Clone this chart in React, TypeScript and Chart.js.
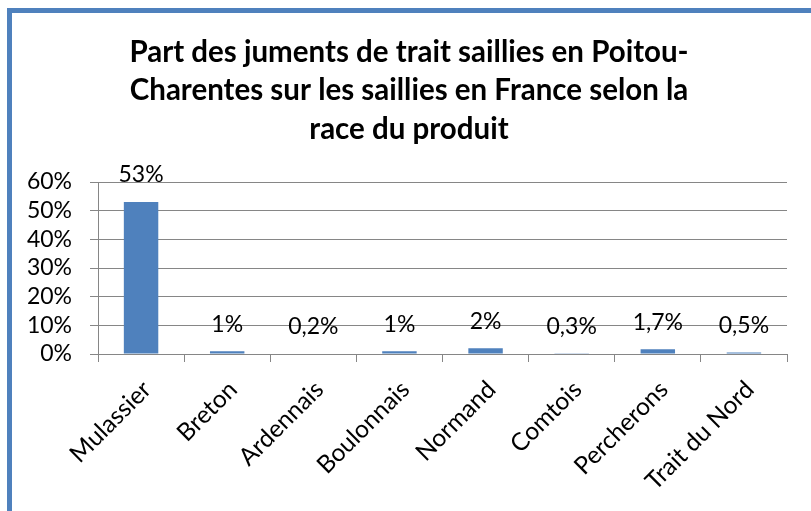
import React, { useEffect, useRef } from "react";
import { Chart, registerables } from "chart.js";

Chart.register(...registerables);

const titleLines = [
  "Part des juments de trait saillies en Poitou-",
  "Charentes sur les saillies en France selon la",
  "race du produit",
];
const categories = [
  "Mulassier",
  "Breton",
  "Ardennais",
  "Boulonnais",
  "Normand",
  "Comtois",
  "Percherons",
  "Trait du Nord",
];
const values = [53, 1, 0.2, 1, 2, 0.3, 1.7, 0.5];
const yTicks = [0, 10, 20, 30, 40, 50, 60];

const FONT = "Lato, Carlito, 'Open Sans', sans-serif";
const BLUE = "#4F81BD";
const GRID = "#868686";

const fmt = (v: number) => String(v).replace(".", ",") + "%";

const dataLabels = {
  id: "dataLabels",
  afterDatasetsDraw(chart: any) {
    const ctx = chart.ctx;
    const meta = chart.getDatasetMeta(0);
    ctx.save();
    ctx.font = `23px ${FONT}`;
    ctx.fillStyle = "#000";
    ctx.textAlign = "center";
    ctx.textBaseline = "middle";
    meta.data.forEach((el: any, i: number) => {
      ctx.fillText(fmt(values[i]), el.x, el.y - 27);
    });
    ctx.restore();
  },
};

export default function App() {
  const ref = useRef<HTMLCanvasElement | null>(null);
  useEffect(() => {
    document.body.style.margin = "0";
    const chart = new Chart(ref.current as HTMLCanvasElement, {
      type: "bar",
      data: {
        labels: categories,
        datasets: [
          {
            data: values,
            backgroundColor: BLUE,
            borderWidth: 0,
            categoryPercentage: 1,
            barPercentage: 0.4,
          },
        ],
      },
      options: {
        animation: false,
        responsive: false,
        layout: { padding: { top: 33, left: 7, right: 0, bottom: 0 } },
        plugins: {
          legend: { display: false },
          tooltip: { enabled: false },
          title: {
            display: true,
            text: titleLines,
            color: "#000",
            font: { family: FONT, size: 29.5, weight: "bold", lineHeight: 38.5 / 29.5 },
            padding: { top: 0, bottom: 33.5 },
          },
        },
        scales: {
          x: {
            grid: {
              offset: true,
              drawOnChartArea: false,
              drawTicks: true,
              tickLength: 8,
              color: GRID,
            },
            border: { color: GRID },
            ticks: {
              autoSkip: false,
              maxRotation: 45,
              minRotation: 45,
              color: "#000",
              font: { family: FONT, size: 24.5 },
              padding: 13,
              labelOffset: 6,
            },
            afterFit(scale: any) {
              scale.height = 157;
              scale.paddingRight = 24;
              scale.paddingLeft = 0;
            },
          },
          y: {
            min: 0,
            max: 60,
            afterBuildTicks(scale: any) {
              scale.ticks = yTicks.map((v) => ({ value: v }));
            },
            grid: { color: GRID, tickLength: 8 },
            border: { color: GRID },
            ticks: {
              autoSkip: false,
              stepSize: 10,
              color: "#000",
              font: { family: FONT, size: 23 },
              padding: 18,
              callback: (v: any) => v + "%",
            },
            afterFit(scale: any) {
              scale.width = 91;
            },
          },
        },
      },
      plugins: [dataLabels],
    });
    return () => chart.destroy();
  }, []);
  return (
    <div style={{ position: "relative", width: 811, height: 511, overflow: "hidden", background: "#fff" }}>
      <canvas ref={ref} width={811} height={511} style={{ position: "absolute", left: 0, top: 0 }} />
      <div
        style={{
          position: "absolute",
          left: 7,
          top: 8,
          width: 900,
          height: 600,
          borderLeft: `5px solid ${BLUE}`,
          borderTop: `5px solid ${BLUE}`,
          pointerEvents: "none",
        }}
      />
    </div>
  );
}
